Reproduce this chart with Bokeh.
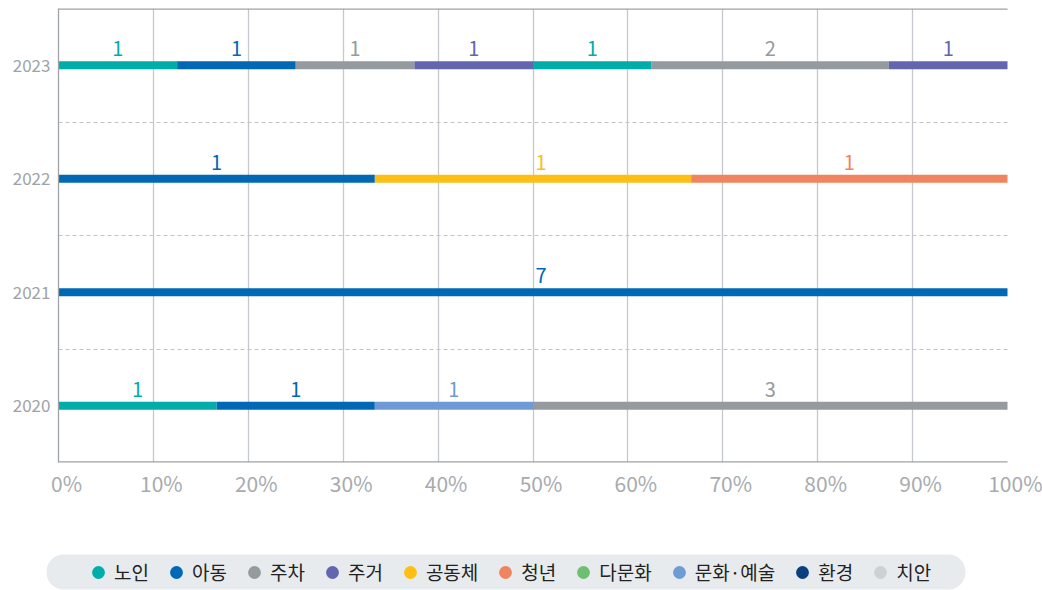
from bokeh.plotting import figure
from bokeh.models import (ColumnDataSource, Range1d, LinearAxis, FixedTicker,
                          Legend, LegendItem, BoxAnnotation)
from bokeh.core.properties import value
from bokeh.embed import file_html
from bokeh.resources import INLINE

# ---------------- data ----------------
years = ["2020", "2021", "2022", "2023"]
categories = ["노인", "아동", "주차", "주거", "공동체", "청년", "다문화", "문화·예술", "환경", "치안"]
colors = ["#00ADA9", "#0068B5", "#959A9F", "#6166AF", "#FBBF16",
          "#F0845E", "#6DBF72", "#6E9BD5", "#0B3F7F", "#CDD1D5"]

seg_2020_cats = ["노인", "아동", "문화·예술", "주차"]
seg_2020_vals = [1, 1, 1, 3]
seg_2021_cats = ["아동"]
seg_2021_vals = [7]
seg_2022_cats = ["아동", "공동체", "청년"]
seg_2022_vals = [1, 1, 1]
seg_2023_cats = ["노인", "아동", "주차", "주거", "노인", "주차", "주거"]
seg_2023_vals = [1, 1, 1, 1, 1, 2, 1]

x_ticks = [0, 10, 20, 30, 40, 50, 60, 70, 80, 90, 100]
x_tick_labels = ["0%", "10%", "20%", "30%", "40%", "50%", "60%", "70%", "80%", "90%", "100%"]
grid_ticks = [10, 20, 30, 40, 50, 60, 70, 80, 90]

FONT = "Noto Sans CJK KR"
AXIS_C = "#9EA3A8"
cmap = dict(zip(categories, colors))

# ---------------- build segments ----------------
segs = [(seg_2020_cats, seg_2020_vals), (seg_2021_cats, seg_2021_vals),
        (seg_2022_cats, seg_2022_vals), (seg_2023_cats, seg_2023_vals)]
d = dict(y=[], left=[], right=[], mid=[], color=[], label=[], xoff=[])
for i, (cats, vals) in enumerate(segs):
    tot = float(sum(vals))
    acc = 0.0
    for c, v in zip(cats, vals):
        l = acc / tot * 100
        acc += v
        r = acc / tot * 100
        m = (l + r) / 2
        d["y"].append(i + 0.5)
        d["left"].append(l)
        d["right"].append(r)
        d["mid"].append(m)
        d["color"].append(cmap[c])
        d["label"].append(str(v))
        d["xoff"].append(8 if abs(m - 50) < 1e-6 else 0)
src = ColumnDataSource(d)

# ---------------- main chart ----------------
W = 1042
LEFT = 58
TOP = 8
bar_w = 949          # px width of 0..100%
shift = 8            # px shift of tick labels to the right
frame_w = bar_w + shift
frame_h = 454
band_px = frame_h / len(years)
H1 = 540

x_end = 100 * frame_w / bar_w
p = figure(width=W, height=H1, output_backend="svg", toolbar_location=None,
           x_range=Range1d(0, x_end), y_range=Range1d(0, len(years)),
           min_border_left=LEFT, min_border_right=W - LEFT - frame_w,
           min_border_top=TOP, min_border_bottom=H1 - TOP - frame_h)
p.outline_line_color = None
p.background_fill_color = "white"
p.border_fill_color = "white"

p.xaxis.visible = False

# tick label axis, shifted right
p.extra_x_ranges = {"lab": Range1d(-100 * shift / bar_w, 100)}
lab = LinearAxis(x_range_name="lab", ticker=FixedTicker(ticks=x_ticks),
                 major_label_overrides={t: s for t, s in zip(x_ticks, x_tick_labels)},
                 axis_line_color=None, major_tick_line_color=None,
                 minor_tick_line_color=None, major_tick_out=0, minor_tick_out=0,
                 major_label_standoff=5,
                 major_label_text_font=FONT, major_label_text_font_size="21px",
                 major_label_text_color="#A7ABAF")
p.add_layout(lab, "below")

# y axis
ya = p.yaxis[0]
ya.ticker = FixedTicker(ticks=[i + 0.5 for i in range(len(years))])
ya.major_label_overrides = {i + 0.5: y for i, y in enumerate(years)}
ya.axis_line_color = AXIS_C
ya.axis_line_width = 1.3
ya.major_tick_line_color = None
ya.minor_tick_line_color = None
ya.major_tick_out = 0
ya.minor_tick_out = 0
ya.major_label_standoff = 8
ya.major_label_text_font = FONT
ya.major_label_text_font_size = "17px"
ya.major_label_text_color = AXIS_C

# grids
p.xgrid.ticker = FixedTicker(ticks=grid_ticks)
p.xgrid.grid_line_color = "#C5C9CD"
p.xgrid.grid_line_width = 1.3
p.ygrid.ticker = FixedTicker(ticks=list(range(1, len(years))))
p.ygrid.grid_line_color = "#C4C4C4"
p.ygrid.grid_line_dash = "4 3"
p.ygrid.cross_bounds = (0, 100)

# frame lines at top and bottom, 0..100%
p.segment(x0=[0, 0], x1=[100, 100], y0=[0, len(years)], y1=[0, len(years)],
          line_color=AXIS_C, line_width=2.4)

# bars
p.hbar(y="y", left="left", right="right", height=8 / band_px, fill_color="color",
       line_color=None, source=src)

# value labels
p.text(x="mid", y="y", text="label", text_color="color", text_font=value(FONT),
       text_font_size="20px", text_align="center", text_baseline="alphabetic",
       x_offset="xoff", y_offset=-16.5, source=src)

# ---------------- legend strip (separate root, pixel coordinates) ----------------
H2 = 590 - H1
p2 = figure(width=W, height=H2, output_backend="svg", toolbar_location=None,
            x_range=Range1d(0, W), y_range=Range1d(0, H2),
            min_border=0, x_axis_type=None, y_axis_type=None)
p2.outline_line_color = None
p2.grid.visible = False
p2.background_fill_color = "white"
p2.border_fill_color = "white"

box = BoxAnnotation(left=46, right=965, bottom=1, top=36,
                    fill_color="#E8EBED", fill_alpha=1, line_color=None)
try:
    box.border_radius = 17
except Exception:
    pass
p2.add_layout(box)

nan = float("nan")
items = []
for c, col in zip(categories, colors):
    r = p2.scatter(x=[nan], y=[nan], marker="circle", size=12, fill_color=col, line_color=None)
    items.append(LegendItem(label=c, renderers=[r]))
legend = Legend(items=items, orientation="horizontal", location=(82, 2.5),
                glyph_width=32, glyph_height=32, label_standoff=-9, spacing=11,
                label_width=0, padding=0, margin=0,
                background_fill_alpha=0, border_line_color=None,
                label_text_font=FONT, label_text_font_size="19px",
                label_text_color="#222222", label_text_baseline="middle")
p2.add_layout(legend, "center")

open("out.html", "w").write(file_html([p, p2], INLINE))
